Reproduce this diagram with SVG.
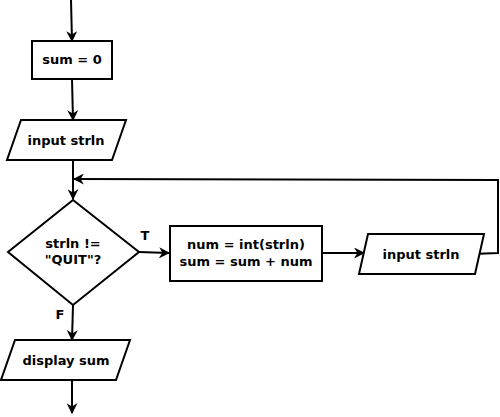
<svg xmlns="http://www.w3.org/2000/svg" width="500" height="417" viewBox="0 0 500 417">
<defs>
<marker id="ah" viewBox="0 0 10 10" refX="9" refY="5" markerWidth="11" markerHeight="11" markerUnits="userSpaceOnUse" orient="auto">
<path d="M0,0 L10,5 L0,10 L3,5 Z" fill="#000"/>
</marker>
</defs>
<style>
.n{fill:#fff;stroke:#000;stroke-width:2}
.c{fill:none;stroke:#000;stroke-width:2;marker-end:url(#ah)}
text{font-family:"DejaVu Sans",sans-serif;font-size:13px;font-weight:bold;text-anchor:middle;fill:#000}
</style>
<rect width="500" height="417" fill="#fff"/>
<g id="connectors">
<path class="c" d="M71,0 L72,41"/>
<path class="c" d="M72,79 L73,120"/>
<path class="c" d="M73,160 L73,199"/>
<path class="c" d="M472,254 L498,253 L498,180 L74,179"/>
<path class="c" d="M139,252 L169,253"/>
<path class="c" d="M323,253 L364,253"/>
<path class="c" d="M73,305 L72,340"/>
<path class="c" d="M72,380 L72,413"/>
<text x="145" y="240">T</text>
<text x="60" y="319">F</text>
</g>
<g id="start">
<rect class="n" x="32" y="41" width="80" height="38"/>
<text x="72" y="64">sum = 0</text>
</g>
<g id="input1">
<polygon class="n" points="21,120 126,120 112,160 7,160"/>
<text x="66" y="145">input strln</text>
</g>
<g id="decision">
<polygon class="n" points="73,200 139,252 73,305 8,252"/>
<text x="73" y="248">strln !=</text>
<text x="73" y="264">"QUIT"?</text>
</g>
<g id="process">
<rect class="n" x="170" y="226" width="152" height="55"/>
<text x="246" y="249">num = int(strln)</text>
<text x="246" y="266">sum = sum + num</text>
</g>
<g id="input2">
<polygon class="n" points="368,234 484,234 475,274 359,274"/>
<text x="421" y="259">input strln</text>
</g>
<g id="display">
<polygon class="n" points="15,340 130,340 116,380 1,380"/>
<text x="66" y="365">display sum</text>
</g>
</svg>
